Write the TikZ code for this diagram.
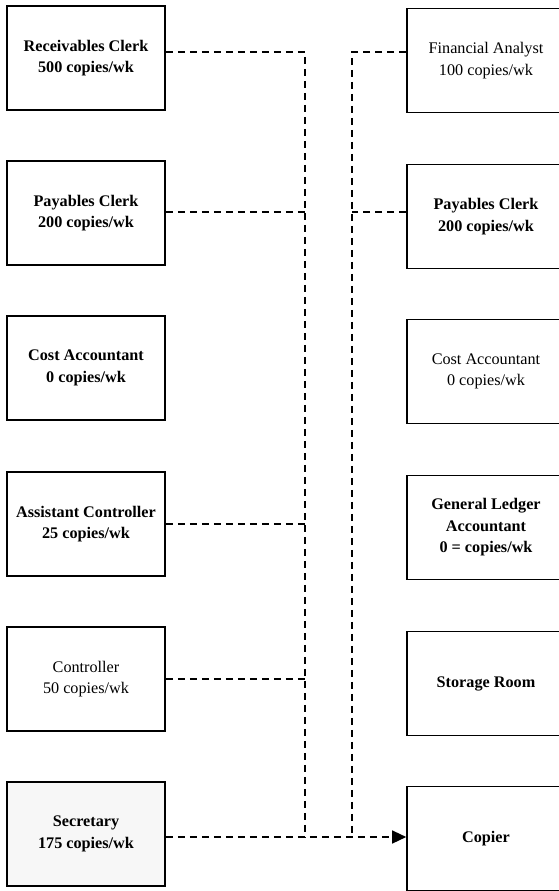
\documentclass[tikz,border=0pt]{standalone}
\usepackage{fontspec}
\setmainfont{Liberation Serif}
\usetikzlibrary{arrows.meta}
\begin{document}
\begin{tikzpicture}[x=1pt,y=-1pt,
  box/.style={draw, line width=1.6pt, minimum width=158pt, minimum height=104pt,
              inner sep=0pt, align=center, font=\fontsize{16.2}{21.5}\selectfont},
  bbox/.style={box, font=\fontsize{16.2}{21.5}\selectfont\bfseries},
  conn/.style={line width=1.4pt, dash pattern=on 7pt off 5pt},
  tip/.style={-{Triangle[length=14pt,width=13pt]}},
]
\clip (0,0) rectangle (559,891);

% left column of workstations
\node[bbox] (rc)  at (86,58)  {Receivables Clerk\\500 copies/wk};
\node[bbox] (pcl) at (86,213) {Payables Clerk\\200 copies/wk};
\node[bbox] (cal) at (86,368) {Cost Accountant\\0 copies/wk};
\node[bbox] (ac)  at (86,524) {Assistant Controller\\25 copies/wk};
\node[box]  (ctl) at (86,679) {Controller\\50 copies/wk};
\node[bbox, fill=black!3] (sec) at (86,834) {Secretary\\175 copies/wk};

% right column
\node[box]  (fa)  at (486,60.5)  {Financial Analyst\\100 copies/wk};
\node[bbox] (pcr) at (486,216.5) {Payables Clerk\\200 copies/wk};
\node[box]  (car) at (486,371.5) {Cost Accountant\\0 copies/wk};
\node[bbox] (gl)  at (486,527.5) {General Ledger\\Accountant\\0 = copies/wk};
\node[bbox] (sr)  at (486,683.5) {Storage Room};
\node[bbox] (cop) at (486,838.5) {Copier};

% heights of the connector runs
\coordinate (yA) at (0,52);
\coordinate (yB) at (0,212);
\coordinate (yC) at (0,524);
\coordinate (yD) at (0,679);
\coordinate (yS) at (0,837);

% trunk ends
\coordinate (tl) at (305,837);
\coordinate (tr) at (352,834);

% left trunk
\draw[conn] (rc.east |- yA) -| (tl);
\draw[conn] (pcl.east |- yB) -- (tl |- yB);
\draw[conn] (ac.east |- yC) -- (tl |- yC);
\draw[conn] (ctl.east |- yD) -- (tl |- yD);

% right trunk
\draw[conn] (fa.west |- yA) -| (tr);
\draw[conn] (pcr.west |- yB) -- (tr |- yB);

% into the copier
\draw[conn, tip] (sec.east |- yS) -- (cop.west |- yS);
\end{tikzpicture}
\end{document}
